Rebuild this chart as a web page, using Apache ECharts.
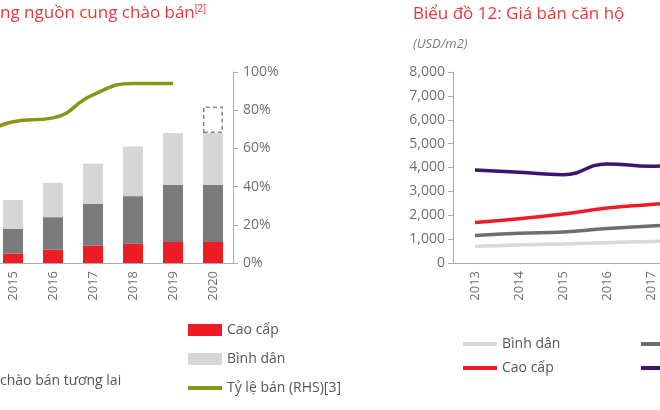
<!DOCTYPE html>
<html><head><meta charset="utf-8">
<script src="https://cdn.jsdelivr.net/npm/echarts@6/dist/echarts.min.js"></script>
<style>body{margin:0;background:#fff}#c{width:660px;height:410px}</style>
</head><body><div id="c"></div>
<script>
// left chart: supply (stacked bars) and sales ratio (line)
var years_supply = ['2013','2014','2015','2016','2017','2018','2019','2020'];
var supply_caocap = [3, 4, 5, 7, 9, 10, 11, 11];
var supply_trungcap = [8, 10, 13, 17, 22, 25, 30, 30];
var supply_binhdan = [10, 12, 15, 18, 21, 26, 27, 27];
var supply_future = [null, null, null, null, null, null, null, 14];
var sale_ratio = [55, 63, 74, 76, 88, 94, 94, null];
var pct_ticks = ['0%','20%','40%','60%','80%','100%'];

// right chart: prices USD/m2
var years_price = ['2013','2014','2015','2016','2017','2018','2019','2020'];
var price_binhdan = [700, 750, 800, 850, 900, 950, 1000, 1050];
var price_trungcap = [1150, 1250, 1300, 1450, 1550, 1650, 1750, 1850];
var price_caocap = [1700, 1850, 2050, 2300, 2450, 2600, 2750, 2900];
var price_hangsang = [3900, 3800, 3700, 4150, 4050, 4200, 4300, 4400];

var chart = echarts.init(document.getElementById('c'));
var txt = '#6f6f6f';
var font = 'Open Sans';
function oneLegend(name, left, top, line){
    return {data: [{name: name, icon: 'rect'}], left: left, top: top, itemWidth: 34, itemHeight: line ? 4 : 12,
        textStyle: {color: '#555', fontSize: 14, fontFamily: font}, selectedMode: false};
}
chart.setOption({
    animation: false,
    textStyle: {fontFamily: font},
    graphic: [
        {type: 'text', left: 0, top: 4, style: {text: 'ng nguồn cung chào bán{s|[2]}', fill: '#e8383d', font: '17px Open Sans',
            rich: {s: {fontSize: 10, fill: '#e8383d', verticalAlign: 'top', padding: [0, 0, 8, 0]}}}},
        {type: 'text', left: 413, top: 6, style: {text: 'Biểu đồ 12: Giá bán căn hộ', fill: '#e8383d', font: '17px Open Sans'}},
        {type: 'text', left: 413, top: 38, style: {text: '(USD/m2)', fill: '#7a7a7a', font: 'italic 13px Open Sans'}},
        {type: 'text', left: 0, top: 374, style: {text: 'chào bán tương lai', fill: '#555', font: '14px Open Sans'}}
    ],
    legend: [
        oneLegend('Cao cấp', 183, 318, false),
        oneLegend('Bình dân', 183, 347, false),
        oneLegend('Tỷ lệ bán (RHS)[3]', 183, 376, true),
        oneLegend('Bình dân ', 458, 332, true),
        oneLegend('Trung cấp ', 636, 332, true),
        oneLegend('Cao cấp ', 458, 356, true),
        oneLegend('Hạng sang ', 636, 356, true)
    ],
    grid: [
        {left: -87, width: 320, top: 72, height: 191, outerBoundsMode: 'none', containLabel: false},
        {left: 453, width: 352, top: 72, height: 191, outerBoundsMode: 'none', containLabel: false}
    ],
    xAxis: [
        {gridIndex: 0, type: 'category', data: years_supply,
            axisLine: {lineStyle: {color: '#aaa'}}, axisTick: {lineStyle: {color: '#aaa'}},
            axisLabel: {rotate: 90, color: txt, fontSize: 13, margin: 8}},
        {gridIndex: 1, type: 'category', data: years_price,
            axisLine: {lineStyle: {color: '#aaa'}}, axisTick: {lineStyle: {color: '#aaa'}},
            axisLabel: {rotate: 90, color: txt, fontSize: 13, margin: 8}}
    ],
    yAxis: [
        {gridIndex: 0, type: 'value', position: 'right', min: 0, max: 100, interval: 20,
            axisLine: {show: true, lineStyle: {color: '#aaa'}}, axisTick: {show: true, lineStyle: {color: '#aaa'}},
            splitLine: {show: false},
            axisLabel: {color: txt, fontSize: 14, margin: 10, formatter: function(v){ return pct_ticks[v / 20]; }}},
        {gridIndex: 1, type: 'value', min: 0, max: 8000, interval: 1000,
            axisLine: {show: true, lineStyle: {color: '#aaa'}}, axisTick: {show: true, lineStyle: {color: '#aaa'}},
            splitLine: {show: false},
            axisLabel: {color: txt, fontSize: 14, margin: 8, formatter: function(v){ return v.toLocaleString('en-US'); }}}
    ],
    series: [
        {name: 'Cao cấp', type: 'bar', stack: 's', barWidth: 20, data: supply_caocap, itemStyle: {color: '#ee1c25'}},
        {name: 'Trung cấp', type: 'bar', stack: 's', data: supply_trungcap, itemStyle: {color: '#7b7b7b'}},
        {name: 'Bình dân', type: 'bar', stack: 's', data: supply_binhdan, itemStyle: {color: '#d6d6d6'}},
        {name: 'Tương lai', type: 'bar', stack: 's', data: supply_future,
            itemStyle: {color: 'rgba(0,0,0,0)', borderColor: '#888', borderWidth: 1.5, borderType: [4, 3]}},
        {name: 'Tỷ lệ bán (RHS)[3]', type: 'line', smooth: true, symbol: 'none', data: sale_ratio,
            lineStyle: {color: '#8c9418', width: 3.5}, itemStyle: {color: '#8c9418'}},
        {name: 'Bình dân ', type: 'line', xAxisIndex: 1, yAxisIndex: 1, smooth: true, symbol: 'none', data: price_binhdan,
            lineStyle: {color: '#d9d9d9', width: 3.5}, itemStyle: {color: '#d9d9d9'}},
        {name: 'Trung cấp ', type: 'line', xAxisIndex: 1, yAxisIndex: 1, smooth: true, symbol: 'none', data: price_trungcap,
            lineStyle: {color: '#6e6e6e', width: 3.5}, itemStyle: {color: '#6e6e6e'}},
        {name: 'Cao cấp ', type: 'line', xAxisIndex: 1, yAxisIndex: 1, smooth: true, symbol: 'none', data: price_caocap,
            lineStyle: {color: '#ee1c25', width: 3.5}, itemStyle: {color: '#ee1c25'}},
        {name: 'Hạng sang ', type: 'line', xAxisIndex: 1, yAxisIndex: 1, smooth: true, symbol: 'none', data: price_hangsang,
            lineStyle: {color: '#3d1470', width: 3.5}, itemStyle: {color: '#3d1470'}}
    ]
});
</script></body></html>
